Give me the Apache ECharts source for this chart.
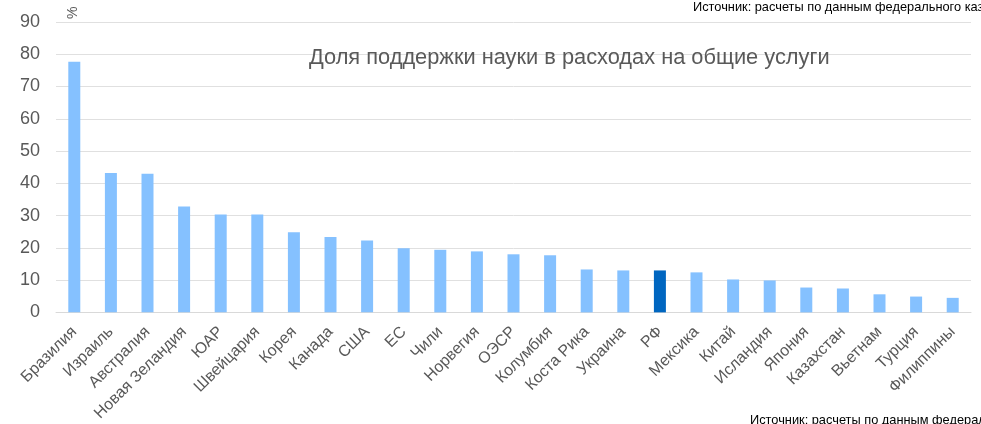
<!DOCTYPE html>
<html>
<head>
<meta charset="utf-8">
<script src="https://cdn.jsdelivr.net/npm/echarts@6/dist/echarts.min.js"></script>
<style>
html,body{margin:0;padding:0;background:#fff;}
#c{width:981px;height:424px;}
</style>
</head>
<body>
<div id="c"></div>
<script>
const categories = ["Бразилия","Израиль","Австралия","Новая Зеландия","ЮАР","Швейцария","Корея","Канада","США","ЕС","Чили","Норвегия","ОЭСР","Колумбия","Коста Рика","Украина","РФ","Мексика","Китай","Исландия","Япония","Казахстан","Вьетнам","Турция","Филиппины"];
const values = [77.7,43.2,43.0,32.8,30.3,30.3,24.8,23.4,22.3,19.9,19.4,18.9,18.0,17.7,13.3,13.0,13.0,12.4,10.2,9.9,7.7,7.4,5.6,4.9,4.5];
const highlight = "РФ";
const yTicks = [0,10,20,30,40,50,60,70,80,90];
const titleText = "Доля поддержки науки в расходах на общие услуги";
const sourceText = "Источник: расчеты по данным федерального казначейства";
const unitText = "%";

const FONT = '"Liberation Sans", Arial, sans-serif';
const chart = echarts.init(document.getElementById('c'), null, {renderer:'canvas'});
chart.setOption({
  animation:false,
  backgroundColor:'#fff',
  title:{text:titleText,left:304,top:42,textStyle:{fontFamily:FONT,fontSize:21.8,fontWeight:'normal',color:'#595959'}},
  grid:{left:56,right:10,top:22,bottom:111,containLabel:false},
  xAxis:{type:'category',data:categories,
    axisLine:{lineStyle:{color:'#d9d9d9',width:1}},
    axisTick:{show:false},
    axisLabel:{rotate:45,interval:0,fontFamily:FONT,fontSize:16,color:'#595959',margin:17}},
  yAxis:{type:'value',min:yTicks[0],max:yTicks[yTicks.length-1],interval:10,
    axisLine:{show:false},axisTick:{show:false},
    splitLine:{lineStyle:{color:'#e0e0e0',width:1}},
    axisLabel:{fontFamily:FONT,fontSize:18,color:'#595959',margin:16}},
  series:[{type:'bar',barWidth:12,
    data:values.map((v,i)=>({value:v,itemStyle:{color:categories[i]===highlight?'#0066C0':'#85C1FF'}}))}],
  graphic:[
    {type:'text',left:693,top:1,style:{text:sourceText,font:'12.8px '+FONT,fill:'#000'}},
    {type:'text',left:750,top:414,style:{text:sourceText,font:'12.8px '+FONT,fill:'#000'}},
    {type:'text',x:66,y:19,rotation:Math.PI/2,style:{text:unitText,font:'14px '+FONT,fill:'#595959'}}
  ]
});
</script>
</body>
</html>
